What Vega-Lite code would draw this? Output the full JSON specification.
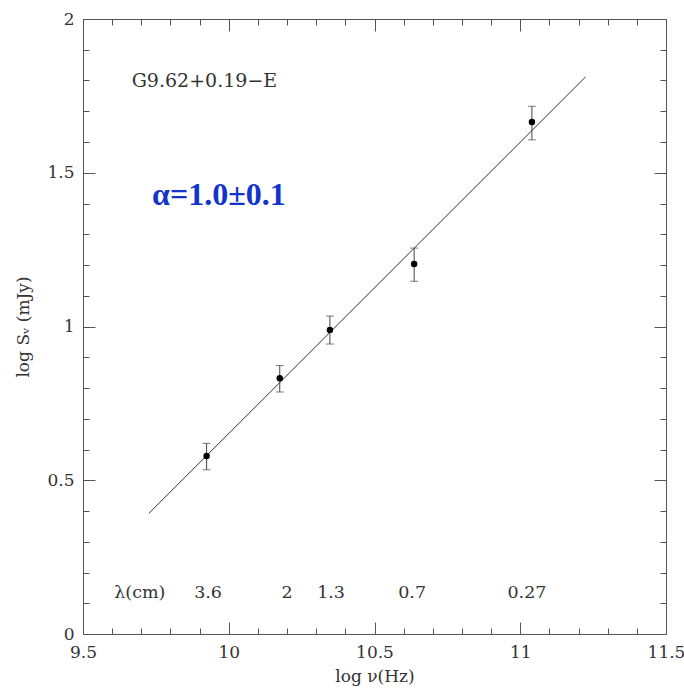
{
  "$schema": "https://vega.github.io/schema/vega-lite/v6.json",
  "width": 583,
  "height": 615,
  "autosize": {"type": "none"},
  "padding": {"left": 83, "top": 19, "right": 18, "bottom": 55},
  "background": "white",
  "config": {
    "view": {"stroke": "#555", "strokeWidth": 1},
    "axis": {
      "domain": false,
      "grid": false,
      "tickColor": "#555",
      "tickWidth": 1,
      "labelFont": "DejaVu Serif",
      "labelFontSize": 17,
      "labelColor": "#333",
      "labelOverlap": false,
      "labelFlush": false,
      "labelBound": false,
      "titleFont": "DejaVu Serif",
      "titleFontSize": 17,
      "titleFontWeight": "normal",
      "titleColor": "#333"
    }
  },
  "datasets": {
    "fit": [{"nu1": 9.726, "s1": 0.3925, "nu2": 11.2245, "s2": 1.812}],
    "flux": [
      {"lognu": 9.924, "logS": 0.579, "lo": 0.534, "hi": 0.620},
      {"lognu": 10.175, "logS": 0.832, "lo": 0.787, "hi": 0.873},
      {"lognu": 10.347, "logS": 0.989, "lo": 0.943, "hi": 1.034},
      {"lognu": 10.636, "logS": 1.203, "lo": 1.147, "hi": 1.255},
      {"lognu": 11.040, "logS": 1.665, "lo": 1.607, "hi": 1.716}
    ],
    "wavelength": [
      {"lognu": 9.695, "label": "λ(cm)"},
      {"lognu": 9.929, "label": "3.6"},
      {"lognu": 10.200, "label": "2"},
      {"lognu": 10.351, "label": "1.3"},
      {"lognu": 10.629, "label": "0.7"},
      {"lognu": 11.023, "label": "0.27"}
    ],
    "notes": [
      {"lognu": 9.667, "logS": 1.78, "text": "G9.62+0.19−E"}
    ],
    "index": [
      {"lognu": 9.737, "logS": 1.395, "text": "α=1.0±0.1"}
    ]
  },
  "layer": [
    {
      "data": {"name": "fit"},
      "mark": {"type": "rule", "color": "#333", "strokeWidth": 1},
      "encoding": {
        "x": {
          "field": "nu1", "type": "quantitative",
          "scale": {"domain": [9.5, 11.5], "nice": false, "zero": false},
          "axis": {
            "orient": "bottom",
            "title": "log ν(Hz)",
            "values": [9.5, 9.6, 9.7, 9.8, 9.9, 10, 10.1, 10.2, 10.3, 10.4, 10.5, 10.6, 10.7, 10.8, 10.9, 11, 11.1, 11.2, 11.3, 11.4, 11.5],
            "tickSize": {"condition": {"test": "abs(datum.value*2 - round(datum.value*2)) < 1e-6", "value": -12}, "value": -6},
            "labelExpr": "abs(datum.value*2 - round(datum.value*2)) < 1e-6 ? format(datum.value, '~g') : ''",
            "labelPadding": 22,
            "titlePadding": 2
          }
        },
        "x2": {"field": "nu2"},
        "y": {
          "field": "s1", "type": "quantitative",
          "scale": {"domain": [0, 2], "nice": false, "zero": false},
          "axis": {
            "orient": "left",
            "title": "log Sᵥ (mJy)",
            "values": [0, 0.1, 0.2, 0.3, 0.4, 0.5, 0.6, 0.7, 0.8, 0.9, 1, 1.1, 1.2, 1.3, 1.4, 1.5, 1.6, 1.7, 1.8, 1.9, 2],
            "tickSize": {"condition": {"test": "abs(datum.value*2 - round(datum.value*2)) < 1e-6", "value": -12}, "value": -6},
            "labelExpr": "abs(datum.value*2 - round(datum.value*2)) < 1e-6 ? format(datum.value, '~g') : ''",
            "labelPadding": 21,
            "titlePadding": 14
          }
        },
        "y2": {"field": "s2"}
      }
    },
    {
      "data": {"name": "flux"},
      "mark": {"type": "rule", "color": "#444", "strokeWidth": 1},
      "encoding": {
        "x": {
          "field": "lognu", "type": "quantitative",
          "axis": {
            "orient": "top",
            "title": null,
            "labels": false,
            "values": [9.5, 9.6, 9.7, 9.8, 9.9, 10, 10.1, 10.2, 10.3, 10.4, 10.5, 10.6, 10.7, 10.8, 10.9, 11, 11.1, 11.2, 11.3, 11.4, 11.5],
            "tickSize": {"condition": {"test": "abs(datum.value*2 - round(datum.value*2)) < 1e-6", "value": -12}, "value": -6}
          }
        },
        "y": {
          "field": "lo", "type": "quantitative",
          "axis": {
            "orient": "right",
            "title": null,
            "labels": false,
            "values": [0, 0.1, 0.2, 0.3, 0.4, 0.5, 0.6, 0.7, 0.8, 0.9, 1, 1.1, 1.2, 1.3, 1.4, 1.5, 1.6, 1.7, 1.8, 1.9, 2],
            "tickSize": {"condition": {"test": "abs(datum.value*2 - round(datum.value*2)) < 1e-6", "value": -12}, "value": -6}
          }
        },
        "y2": {"field": "hi"}
      }
    },
    {
      "data": {"name": "flux"},
      "transform": [{"fold": ["lo", "hi"], "as": ["end", "bound"]}],
      "mark": {"type": "tick", "orient": "horizontal", "color": "#444", "size": 8, "thickness": 1},
      "encoding": {
        "x": {"field": "lognu", "type": "quantitative", "axis": null},
        "y": {"field": "bound", "type": "quantitative", "axis": null}
      }
    },
    {
      "data": {"name": "flux"},
      "mark": {"type": "point", "filled": true, "color": "#000", "size": 42, "opacity": 1},
      "encoding": {
        "x": {"field": "lognu", "type": "quantitative", "axis": null},
        "y": {"field": "logS", "type": "quantitative", "axis": null}
      }
    },
    {
      "data": {"name": "wavelength"},
      "mark": {"type": "text", "font": "DejaVu Serif", "fontSize": 17.5, "color": "#333", "align": "center", "baseline": "alphabetic"},
      "encoding": {
        "x": {"field": "lognu", "type": "quantitative", "axis": null},
        "y": {"datum": 0.116, "type": "quantitative", "axis": null},
        "text": {"field": "label"}
      }
    },
    {
      "data": {"name": "notes"},
      "mark": {"type": "text", "font": "DejaVu Serif", "fontSize": 19, "color": "#333", "align": "left", "baseline": "alphabetic"},
      "encoding": {
        "x": {"field": "lognu", "type": "quantitative", "axis": null},
        "y": {"field": "logS", "type": "quantitative", "axis": null},
        "text": {"field": "text"}
      }
    },
    {
      "data": {"name": "index"},
      "mark": {"type": "text", "font": "Liberation Serif", "fontSize": 32, "fontWeight": "bold", "color": "#1234cc", "align": "left", "baseline": "alphabetic"},
      "encoding": {
        "x": {"field": "lognu", "type": "quantitative", "axis": null},
        "y": {"field": "logS", "type": "quantitative", "axis": null},
        "text": {"field": "text"}
      }
    }
  ],
  "resolve": {"axis": {"x": "independent", "y": "independent"}}
}
